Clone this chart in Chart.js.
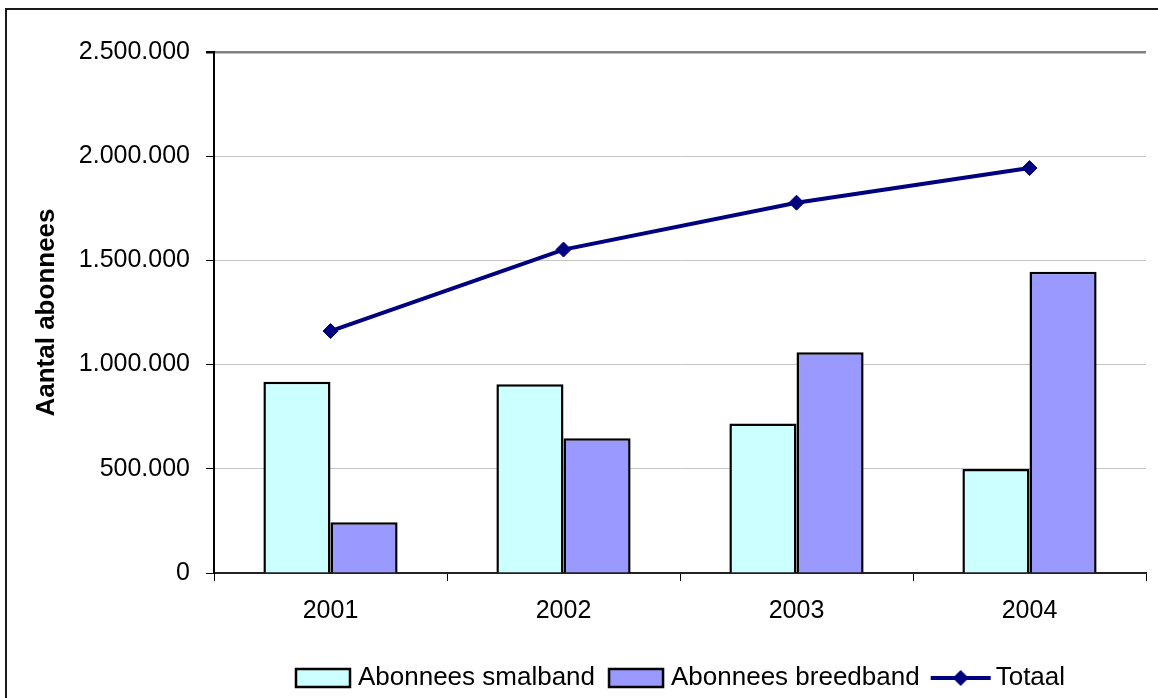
<!DOCTYPE html>
<html>
<head>
<meta charset="utf-8">
<title>Aantal abonnees</title>
<script src="https://cdn.jsdelivr.net/npm/chart.js@4/dist/chart.umd.min.js"></script>
<style>
  html, body { margin: 0; padding: 0; background: #fff; overflow: hidden; width: 1158px; height: 698px; }
  #frame { position: absolute; left: 5px; top: 8px; width: 1300px; height: 900px; border: 2px solid #1a1a1a; box-sizing: border-box; }
  #c { position: absolute; left: 0; top: 0; }
</style>
</head>
<body>
<div id="frame"></div>
<canvas id="c" width="1158" height="710"></canvas>
<script>
// Subscribers per year
const years = ['2001', '2002', '2003', '2004'];
const smalband = [918000, 906000, 717000, 499000];
const breedband = [243000, 646000, 1059000, 1445000];
const totaal = [1161000, 1552000, 1777000, 1943000];

// Y axis range
const yMax = 2500000;
const yStep = 500000;

const FONT = '"Liberation Sans", Arial, sans-serif';
const colSmal = '#CCFFFF';
const colBreed = '#9999FF';
const colTotaal = '#000080';

function fmt(v) {
  return String(v).replace(/\B(?=(\d{3})+(?!\d))/g, '.');
}

// Legend symbols: drawn into small canvases used as point styles
function legendSymbol(kind, fill) {
  const cv = document.createElement('canvas');
  cv.width = 80; cv.height = 24;
  const g = cv.getContext('2d');
  if (kind === 'box') {
    g.fillStyle = fill;
    g.fillRect(16, 3, 54, 18);
    g.strokeStyle = '#000';
    g.lineWidth = 2.5;
    g.strokeRect(16, 3, 54, 18);
  } else {
    g.strokeStyle = fill;
    g.lineWidth = 4;
    g.beginPath();
    g.moveTo(13, 12);
    g.lineTo(73, 12);
    g.stroke();
    g.fillStyle = fill;
    g.beginPath();
    g.moveTo(43, 4);
    g.lineTo(51, 12);
    g.lineTo(43, 20);
    g.lineTo(35, 12);
    g.closePath();
    g.fill();
  }
  return cv;
}

const symSmal = legendSymbol('box', colSmal);
const symBreed = legendSymbol('box', colBreed);
const symTotaal = legendSymbol('line', colTotaal);

new Chart(document.getElementById('c'), {
  type: 'bar',
  data: {
    labels: years,
    datasets: [
      {
        label: 'Abonnees smalband',
        data: smalband,
        backgroundColor: colSmal,
        borderColor: '#000',
        borderWidth: 2.5,
        categoryPercentage: 0.576,
        barPercentage: 1.0,
        order: 1
      },
      {
        label: 'Abonnees breedband',
        data: breedband,
        backgroundColor: colBreed,
        borderColor: '#000',
        borderWidth: 2.5,
        categoryPercentage: 0.576,
        barPercentage: 1.0,
        order: 1
      },
      {
        type: 'line',
        label: 'Totaal',
        data: totaal,
        borderColor: colTotaal,
        backgroundColor: colTotaal,
        borderWidth: 4,
        pointStyle: 'rectRot',
        pointRadius: 7.5,
        pointBorderWidth: 1,
        pointBackgroundColor: colTotaal,
        pointBorderColor: colTotaal,
        tension: 0,
        fill: false,
        order: 0
      }
    ]
  },
  options: {
    responsive: false,
    animation: false,
    devicePixelRatio: 1,
    layout: { padding: { top: 52, right: 12, left: 0, bottom: 9 } },
    plugins: {
      tooltip: { enabled: false },
      legend: {
        position: 'bottom',
        fullSize: false,
        labels: {
          usePointStyle: true,
          pointStyleWidth: 50,
          padding: 13,
          color: '#000',
          font: { family: FONT, size: 26 },
          generateLabels: () => [
            { text: 'Abonnees smalband', pointStyle: symSmal, fillStyle: colSmal, strokeStyle: '#000', lineWidth: 0, hidden: false, datasetIndex: 0 },
            { text: 'Abonnees breedband', pointStyle: symBreed, fillStyle: colBreed, strokeStyle: '#000', lineWidth: 0, hidden: false, datasetIndex: 1 },
            { text: 'Totaal', pointStyle: symTotaal, fillStyle: colTotaal, strokeStyle: colTotaal, lineWidth: 0, hidden: false, datasetIndex: 2 }
          ]
        }
      }
    },
    scales: {
      x: {
        offset: true,
        grid: {
          offset: true,
          drawOnChartArea: true,
          drawTicks: true,
          tickLength: 8,
          tickColor: '#000',
          color: (ctx) => ctx.index === years.length ? '#808080' : 'rgba(0,0,0,0)',
          lineWidth: (ctx) => ctx.index === years.length ? 2.5 : 1
        },
        border: { display: true, color: '#222', width: 2 },
        ticks: {
          color: '#000',
          padding: 15,
          font: { family: FONT, size: 25 },
          maxRotation: 0
        },
        afterFit: (scale) => { scale.height = 79; }
      },
      y: {
        min: 0,
        max: yMax,
        ticks: {
          stepSize: yStep,
          color: '#000',
          padding: 16,
          font: { family: FONT, size: 25 },
          callback: (v) => fmt(v)
        },
        grid: {
          drawTicks: true,
          tickLength: 8,
          tickColor: '#000',
          color: (ctx) => (ctx.tick && ctx.tick.value === yMax) ? '#808080' : '#c4c4c4',
          lineWidth: (ctx) => (ctx.tick && ctx.tick.value === yMax) ? 2.5 : 1
        },
        border: { display: true, color: '#000', width: 2 },
        title: {
          display: true,
          text: 'Aantal abonnees',
          color: '#000',
          padding: { top: 31, bottom: 0 },
          font: { family: FONT, size: 26, weight: 'bold' }
        },
        afterFit: (scale) => { scale.width = 214; }
      }
    }
  }
});
</script>
</body>
</html>
